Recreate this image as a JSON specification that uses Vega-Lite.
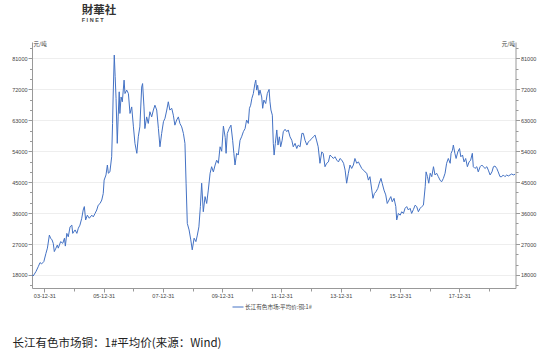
{
  "$schema": "https://vega.github.io/schema/vega-lite/v6.json",
  "width": 483.5,
  "height": 246,
  "autosize": "none",
  "padding": {"left": 32, "top": 42, "right": 34.5, "bottom": 71},
  "background": "white",
  "title": {
    "text": "財華社",
    "subtitle": "F I N E T",
    "anchor": "start",
    "dx": 70,
    "offset": 18,
    "font": "Noto Sans CJK SC",
    "fontSize": 11.5,
    "fontWeight": "bold",
    "color": "#333333",
    "subtitleFont": "Liberation Sans",
    "subtitleFontSize": 5.5,
    "subtitleFontWeight": "bold",
    "subtitleColor": "#444444",
    "subtitlePadding": 2
  },
  "data": {
    "values": [
      {"date": "2003-08-05", "price": 18000},
      {"date": "2003-08-16", "price": 17700},
      {"date": "2003-09-19", "price": 19000},
      {"date": "2003-10-17", "price": 20400},
      {"date": "2003-11-08", "price": 21600},
      {"date": "2003-11-27", "price": 21200},
      {"date": "2003-12-25", "price": 21900},
      {"date": "2004-01-20", "price": 24300},
      {"date": "2004-02-07", "price": 25800},
      {"date": "2004-03-02", "price": 29600},
      {"date": "2004-03-17", "price": 28700},
      {"date": "2004-04-04", "price": 28200},
      {"date": "2004-04-19", "price": 27200},
      {"date": "2004-05-02", "price": 24800},
      {"date": "2004-05-22", "price": 25800},
      {"date": "2004-06-08", "price": 26700},
      {"date": "2004-06-20", "price": 25800},
      {"date": "2004-07-19", "price": 27700},
      {"date": "2004-08-14", "price": 27200},
      {"date": "2004-09-04", "price": 28700},
      {"date": "2004-09-15", "price": 26400},
      {"date": "2004-10-03", "price": 30100},
      {"date": "2004-10-21", "price": 29100},
      {"date": "2004-11-12", "price": 32000},
      {"date": "2004-12-04", "price": 32500},
      {"date": "2004-12-15", "price": 30100},
      {"date": "2005-01-13", "price": 31100},
      {"date": "2005-02-04", "price": 30100},
      {"date": "2005-02-22", "price": 31600},
      {"date": "2005-03-14", "price": 32500},
      {"date": "2005-04-05", "price": 34500},
      {"date": "2005-04-23", "price": 36900},
      {"date": "2005-05-07", "price": 37900},
      {"date": "2005-05-23", "price": 34000},
      {"date": "2005-06-13", "price": 35400},
      {"date": "2005-07-07", "price": 34500},
      {"date": "2005-08-07", "price": 35400},
      {"date": "2005-08-25", "price": 34900},
      {"date": "2005-09-16", "price": 35900},
      {"date": "2005-10-07", "price": 36900},
      {"date": "2005-10-25", "price": 38300},
      {"date": "2005-11-17", "price": 38800},
      {"date": "2005-12-08", "price": 39800},
      {"date": "2005-12-26", "price": 41700},
      {"date": "2006-01-06", "price": 45600},
      {"date": "2006-01-29", "price": 47100},
      {"date": "2006-02-15", "price": 50000},
      {"date": "2006-02-27", "price": 47600},
      {"date": "2006-03-18", "price": 48000},
      {"date": "2006-04-09", "price": 52400},
      {"date": "2006-04-20", "price": 62100},
      {"date": "2006-04-27", "price": 69800},
      {"date": "2006-05-11", "price": 82000},
      {"date": "2006-05-22", "price": 75700},
      {"date": "2006-06-02", "price": 69400},
      {"date": "2006-06-17", "price": 56300},
      {"date": "2006-06-28", "price": 64000},
      {"date": "2006-07-11", "price": 71300},
      {"date": "2006-07-19", "price": 65000},
      {"date": "2006-08-03", "price": 69800},
      {"date": "2006-08-18", "price": 68400},
      {"date": "2006-09-09", "price": 74700},
      {"date": "2006-09-20", "price": 70800},
      {"date": "2006-10-11", "price": 71800},
      {"date": "2006-11-01", "price": 70800},
      {"date": "2006-11-21", "price": 65000},
      {"date": "2006-12-12", "price": 66900},
      {"date": "2007-01-02", "price": 61100},
      {"date": "2007-01-21", "price": 56300},
      {"date": "2007-02-13", "price": 53400},
      {"date": "2007-03-03", "price": 58200},
      {"date": "2007-03-22", "price": 61100},
      {"date": "2007-04-14", "price": 72700},
      {"date": "2007-04-25", "price": 73700},
      {"date": "2007-05-12", "price": 66900},
      {"date": "2007-05-23", "price": 60600},
      {"date": "2007-06-14", "price": 64000},
      {"date": "2007-07-04", "price": 62100},
      {"date": "2007-07-24", "price": 65500},
      {"date": "2007-08-15", "price": 64000},
      {"date": "2007-09-05", "price": 66000},
      {"date": "2007-09-24", "price": 67400},
      {"date": "2007-10-16", "price": 66000},
      {"date": "2007-11-06", "price": 60600},
      {"date": "2007-11-25", "price": 55300},
      {"date": "2007-12-16", "price": 59200},
      {"date": "2008-01-07", "price": 62600},
      {"date": "2008-01-26", "price": 63600},
      {"date": "2008-02-17", "price": 66000},
      {"date": "2008-03-07", "price": 68400},
      {"date": "2008-03-26", "price": 66000},
      {"date": "2008-04-18", "price": 66500},
      {"date": "2008-05-08", "price": 64500},
      {"date": "2008-05-27", "price": 61600},
      {"date": "2008-06-18", "price": 63100},
      {"date": "2008-07-09", "price": 64000},
      {"date": "2008-07-28", "price": 62100},
      {"date": "2008-08-19", "price": 61100},
      {"date": "2008-09-09", "price": 59200},
      {"date": "2008-09-28", "price": 56300},
      {"date": "2008-10-12", "price": 44700},
      {"date": "2008-10-27", "price": 33000},
      {"date": "2008-11-18", "price": 31100},
      {"date": "2008-12-09", "price": 28200},
      {"date": "2008-12-27", "price": 25300},
      {"date": "2009-01-19", "price": 28700},
      {"date": "2009-02-10", "price": 27700},
      {"date": "2009-02-28", "price": 29600},
      {"date": "2009-03-19", "price": 32000},
      {"date": "2009-04-06", "price": 37900},
      {"date": "2009-04-22", "price": 44700},
      {"date": "2009-05-12", "price": 36400},
      {"date": "2009-06-03", "price": 40800},
      {"date": "2009-06-23", "price": 38800},
      {"date": "2009-07-13", "price": 42700},
      {"date": "2009-08-04", "price": 47600},
      {"date": "2009-08-23", "price": 49500},
      {"date": "2009-09-13", "price": 48000},
      {"date": "2009-10-05", "price": 50000},
      {"date": "2009-10-24", "price": 51400},
      {"date": "2009-11-14", "price": 50500},
      {"date": "2009-12-05", "price": 55300},
      {"date": "2009-12-25", "price": 54000},
      {"date": "2010-01-15", "price": 61300},
      {"date": "2010-02-06", "price": 58000},
      {"date": "2010-02-17", "price": 53400},
      {"date": "2010-03-04", "price": 59200},
      {"date": "2010-03-27", "price": 60600},
      {"date": "2010-04-18", "price": 61600},
      {"date": "2010-05-09", "price": 57200},
      {"date": "2010-05-24", "price": 53400},
      {"date": "2010-06-07", "price": 50000},
      {"date": "2010-06-27", "price": 53400},
      {"date": "2010-07-17", "price": 52900},
      {"date": "2010-08-08", "price": 57200},
      {"date": "2010-08-27", "price": 58200},
      {"date": "2010-09-18", "price": 59700},
      {"date": "2010-10-09", "price": 60600},
      {"date": "2010-10-28", "price": 63100},
      {"date": "2010-11-18", "price": 62100},
      {"date": "2010-12-02", "price": 66500},
      {"date": "2010-12-17", "price": 67400},
      {"date": "2011-01-01", "price": 69400},
      {"date": "2011-01-19", "price": 70800},
      {"date": "2011-02-07", "price": 73700},
      {"date": "2011-02-18", "price": 74700},
      {"date": "2011-03-01", "price": 71800},
      {"date": "2011-03-13", "price": 73200},
      {"date": "2011-03-28", "price": 70300},
      {"date": "2011-04-11", "price": 71800},
      {"date": "2011-05-02", "price": 69800},
      {"date": "2011-05-14", "price": 66500},
      {"date": "2011-05-29", "price": 68900},
      {"date": "2011-06-20", "price": 67900},
      {"date": "2011-07-10", "price": 70800},
      {"date": "2011-08-01", "price": 72000},
      {"date": "2011-08-12", "price": 68400},
      {"date": "2011-08-24", "price": 66000},
      {"date": "2011-09-10", "price": 64500},
      {"date": "2011-09-22", "price": 56300},
      {"date": "2011-10-02", "price": 52900},
      {"date": "2011-10-17", "price": 56300},
      {"date": "2011-11-04", "price": 60200},
      {"date": "2011-11-19", "price": 55800},
      {"date": "2011-12-06", "price": 58200},
      {"date": "2011-12-22", "price": 55300},
      {"date": "2012-01-09", "price": 57200},
      {"date": "2012-01-23", "price": 59700},
      {"date": "2012-02-14", "price": 60400},
      {"date": "2012-03-06", "price": 59700},
      {"date": "2012-03-24", "price": 60200},
      {"date": "2012-04-15", "price": 58200},
      {"date": "2012-05-07", "price": 57200},
      {"date": "2012-05-25", "price": 55300},
      {"date": "2012-06-16", "price": 56300},
      {"date": "2012-07-07", "price": 54800},
      {"date": "2012-07-25", "price": 55800},
      {"date": "2012-08-17", "price": 55300},
      {"date": "2012-09-08", "price": 59200},
      {"date": "2012-09-26", "price": 59200},
      {"date": "2012-10-17", "price": 57200},
      {"date": "2012-11-09", "price": 55800},
      {"date": "2012-11-27", "price": 56700},
      {"date": "2012-12-18", "price": 57200},
      {"date": "2013-01-09", "price": 57700},
      {"date": "2013-01-27", "price": 58200},
      {"date": "2013-02-18", "price": 58700},
      {"date": "2013-03-10", "price": 57000},
      {"date": "2013-03-28", "price": 55300},
      {"date": "2013-04-19", "price": 50500},
      {"date": "2013-05-11", "price": 53800},
      {"date": "2013-05-29", "price": 53400},
      {"date": "2013-06-20", "price": 49500},
      {"date": "2013-07-11", "price": 50500},
      {"date": "2013-08-01", "price": 50900},
      {"date": "2013-08-21", "price": 52900},
      {"date": "2013-09-12", "price": 52400},
      {"date": "2013-10-02", "price": 51900},
      {"date": "2013-10-21", "price": 52400},
      {"date": "2013-11-13", "price": 51400},
      {"date": "2013-12-03", "price": 50900},
      {"date": "2013-12-22", "price": 51900},
      {"date": "2014-01-14", "price": 51400},
      {"date": "2014-02-04", "price": 50500},
      {"date": "2014-02-23", "price": 48500},
      {"date": "2014-03-14", "price": 44700},
      {"date": "2014-04-04", "price": 47600},
      {"date": "2014-04-24", "price": 50000},
      {"date": "2014-05-15", "price": 49000},
      {"date": "2014-06-05", "price": 50000},
      {"date": "2014-06-24", "price": 51900},
      {"date": "2014-07-16", "price": 50500},
      {"date": "2014-08-06", "price": 50900},
      {"date": "2014-08-25", "price": 50000},
      {"date": "2014-09-16", "price": 49000},
      {"date": "2014-10-07", "price": 48500},
      {"date": "2014-10-26", "price": 48000},
      {"date": "2014-11-17", "price": 47600},
      {"date": "2014-12-07", "price": 45600},
      {"date": "2014-12-26", "price": 46600},
      {"date": "2015-01-18", "price": 42700},
      {"date": "2015-02-01", "price": 40300},
      {"date": "2015-02-19", "price": 41700},
      {"date": "2015-03-10", "price": 42200},
      {"date": "2015-04-02", "price": 43200},
      {"date": "2015-04-20", "price": 44700},
      {"date": "2015-05-11", "price": 46100},
      {"date": "2015-05-26", "price": 44700},
      {"date": "2015-06-17", "price": 42700},
      {"date": "2015-07-09", "price": 41300},
      {"date": "2015-07-27", "price": 38800},
      {"date": "2015-08-18", "price": 39800},
      {"date": "2015-09-09", "price": 40800},
      {"date": "2015-09-27", "price": 39300},
      {"date": "2015-10-19", "price": 40300},
      {"date": "2015-11-10", "price": 37900},
      {"date": "2015-11-21", "price": 34000},
      {"date": "2015-12-11", "price": 35900},
      {"date": "2016-01-03", "price": 35400},
      {"date": "2016-01-22", "price": 36400},
      {"date": "2016-02-12", "price": 35900},
      {"date": "2016-03-03", "price": 37400},
      {"date": "2016-03-23", "price": 37900},
      {"date": "2016-04-13", "price": 36900},
      {"date": "2016-05-04", "price": 37400},
      {"date": "2016-05-23", "price": 35900},
      {"date": "2016-06-13", "price": 37000},
      {"date": "2016-07-05", "price": 38300},
      {"date": "2016-07-24", "price": 37900},
      {"date": "2016-08-14", "price": 36400},
      {"date": "2016-09-05", "price": 37400},
      {"date": "2016-09-25", "price": 37900},
      {"date": "2016-10-15", "price": 38300},
      {"date": "2016-11-06", "price": 43700},
      {"date": "2016-11-17", "price": 48000},
      {"date": "2016-12-04", "price": 46600},
      {"date": "2016-12-20", "price": 44700},
      {"date": "2017-01-07", "price": 47600},
      {"date": "2017-01-26", "price": 46600},
      {"date": "2017-02-16", "price": 49500},
      {"date": "2017-03-07", "price": 47100},
      {"date": "2017-03-27", "price": 47600},
      {"date": "2017-04-17", "price": 46600},
      {"date": "2017-05-08", "price": 45600},
      {"date": "2017-05-27", "price": 45100},
      {"date": "2017-06-18", "price": 46100},
      {"date": "2017-07-09", "price": 47600},
      {"date": "2017-07-28", "price": 50500},
      {"date": "2017-08-18", "price": 51900},
      {"date": "2017-09-10", "price": 50500},
      {"date": "2017-09-21", "price": 53400},
      {"date": "2017-10-08", "price": 54300},
      {"date": "2017-10-19", "price": 55800},
      {"date": "2017-11-07", "price": 53400},
      {"date": "2017-11-22", "price": 51900},
      {"date": "2017-12-13", "price": 53800},
      {"date": "2018-01-03", "price": 54800},
      {"date": "2018-01-19", "price": 52400},
      {"date": "2018-02-09", "price": 52900},
      {"date": "2018-02-28", "price": 50900},
      {"date": "2018-03-20", "price": 51900},
      {"date": "2018-04-10", "price": 49500},
      {"date": "2018-05-01", "price": 50900},
      {"date": "2018-05-20", "price": 51400},
      {"date": "2018-06-10", "price": 53400},
      {"date": "2018-06-22", "price": 49500},
      {"date": "2018-07-13", "price": 49000},
      {"date": "2018-08-04", "price": 49500},
      {"date": "2018-08-22", "price": 48000},
      {"date": "2018-09-14", "price": 49500},
      {"date": "2018-10-05", "price": 50000},
      {"date": "2018-10-23", "price": 49500},
      {"date": "2018-11-14", "price": 49000},
      {"date": "2018-12-06", "price": 49500},
      {"date": "2018-12-24", "price": 48500},
      {"date": "2019-01-15", "price": 47100},
      {"date": "2019-02-07", "price": 48000},
      {"date": "2019-02-25", "price": 49500},
      {"date": "2019-03-16", "price": 49700},
      {"date": "2019-04-07", "price": 49000},
      {"date": "2019-04-25", "price": 48000},
      {"date": "2019-05-17", "price": 46600},
      {"date": "2019-06-08", "price": 46600},
      {"date": "2019-06-26", "price": 47100},
      {"date": "2019-07-17", "price": 46600},
      {"date": "2019-08-08", "price": 47100},
      {"date": "2019-08-27", "price": 46800},
      {"date": "2019-09-18", "price": 47100},
      {"date": "2019-10-09", "price": 47400},
      {"date": "2019-10-27", "price": 47100},
      {"date": "2019-11-18", "price": 47300}
    ]
  },
  "encoding": {
    "x": {
      "field": "date",
      "type": "temporal",
      "scale": {
        "type": "utc",
        "domain": [
          {"year": 2003, "month": 8, "date": 1, "utc": true},
          {"year": 2019, "month": 11, "date": 24, "utc": true}
        ]
      },
      "axis": {
        "values": [
          {"year": 2003, "month": 12, "date": 31, "utc": true},
          {"year": 2004, "month": 12, "date": 31, "utc": true},
          {"year": 2005, "month": 12, "date": 31, "utc": true},
          {"year": 2006, "month": 12, "date": 31, "utc": true},
          {"year": 2007, "month": 12, "date": 31, "utc": true},
          {"year": 2008, "month": 12, "date": 31, "utc": true},
          {"year": 2009, "month": 12, "date": 31, "utc": true},
          {"year": 2010, "month": 12, "date": 31, "utc": true},
          {"year": 2011, "month": 12, "date": 31, "utc": true},
          {"year": 2012, "month": 12, "date": 31, "utc": true},
          {"year": 2013, "month": 12, "date": 31, "utc": true},
          {"year": 2014, "month": 12, "date": 31, "utc": true},
          {"year": 2015, "month": 12, "date": 31, "utc": true},
          {"year": 2016, "month": 12, "date": 31, "utc": true},
          {"year": 2017, "month": 12, "date": 31, "utc": true},
          {"year": 2018, "month": 12, "date": 31, "utc": true}
        ],
        "format": "%y-%m-%d",
        "labelExpr": "utcyear(datum.value) % 2 === 1 ? datum.label : ''",
        "tickSize": {"condition": {"test": "utcyear(datum.value) % 2 === 1", "value": 4}, "value": 3},
        "grid": false,
        "labelPadding": 1,
        "labelFontSize": 5.5,
        "title": "长江有色市场铜：1#平均价(来源：Wind)",
        "titleFont": "Noto Sans CJK SC",
        "titleFontSize": 11.5,
        "titleFontWeight": "normal",
        "titleColor": "#222222",
        "titleAnchor": "start",
        "titleAlign": "left",
        "titleBaseline": "middle",
        "titleX": -20,
        "titleY": 55
      }
    }
  },
  "layer": [
    {
      "mark": {"type": "line", "strokeWidth": 1, "interpolate": "linear"},
      "encoding": {
        "y": {
          "field": "price",
          "type": "quantitative",
          "scale": {"domain": [14200, 85800], "zero": false, "nice": false},
          "axis": {
            "orient": "left",
            "values": [15000, 18000, 21000, 24000, 27000, 30000, 33000, 36000, 39000, 42000, 45000, 48000, 51000, 54000, 57000, 60000, 63000, 66000, 69000, 72000, 75000, 78000, 81000, 84000],
            "format": "d",
            "labelExpr": "datum.value % 9000 === 0 ? datum.label : ''",
            "tickSize": {"condition": {"test": "datum.value % 9000 === 0", "value": 4}, "value": 2.5},
            "grid": true,
            "gridColor": "#eeeeee",
            "gridOpacity": {"condition": {"test": "datum.value % 9000 === 0", "value": 1}, "value": 0},
            "labelPadding": 1,
            "labelFontSize": 5.5,
            "title": "元/吨",
            "titleAngle": 0,
            "titleX": 1,
            "titleY": 3.5,
            "titleAlign": "left",
            "titleBaseline": "alphabetic",
            "titleFontSize": 5.5,
            "titleFontWeight": "normal",
            "titleFont": "Noto Sans CJK SC",
            "titleColor": "#333333"
          }
        },
        "color": {
          "datum": "长江有色市场:平均价:铜:1#",
          "type": "nominal",
          "scale": {"range": ["#4472c4"]},
          "legend": {
            "orient": "none",
            "legendX": 200,
            "legendY": 259,
            "title": null,
            "direction": "horizontal",
            "symbolType": "stroke",
            "symbolSize": 121,
            "symbolStrokeWidth": 1,
            "labelFont": "Noto Sans CJK SC",
            "labelFontSize": 5.6,
            "labelColor": "#444444",
            "labelOffset": 1,
            "padding": 0
          }
        }
      }
    },
    {
      "mark": {"type": "line", "strokeWidth": 1, "opacity": 0},
      "encoding": {
        "y": {
          "field": "price",
          "type": "quantitative",
          "scale": {"domain": [14200, 85800], "zero": false, "nice": false},
          "axis": {
            "orient": "right",
            "values": [15000, 18000, 21000, 24000, 27000, 30000, 33000, 36000, 39000, 42000, 45000, 48000, 51000, 54000, 57000, 60000, 63000, 66000, 69000, 72000, 75000, 78000, 81000, 84000],
            "format": "d",
            "labelExpr": "datum.value % 9000 === 0 ? datum.label : ''",
            "tickSize": {"condition": {"test": "datum.value % 9000 === 0", "value": 4}, "value": 2.5},
            "grid": false,
            "labelPadding": 1,
            "labelFontSize": 5.5,
            "title": "元/吨",
            "titleAngle": 0,
            "titleX": -1,
            "titleY": 3.5,
            "titleAlign": "right",
            "titleBaseline": "alphabetic",
            "titleFontSize": 5.5,
            "titleFontWeight": "normal",
            "titleFont": "Noto Sans CJK SC",
            "titleColor": "#333333"
          }
        }
      }
    }
  ],
  "resolve": {"axis": {"y": "independent"}, "scale": {"y": "shared"}},
  "config": {
    "view": {"stroke": null},
    "axis": {
      "domainColor": "#999999",
      "tickColor": "#999999",
      "labelColor": "#444444",
      "labelFont": "Liberation Sans"
    }
  }
}
